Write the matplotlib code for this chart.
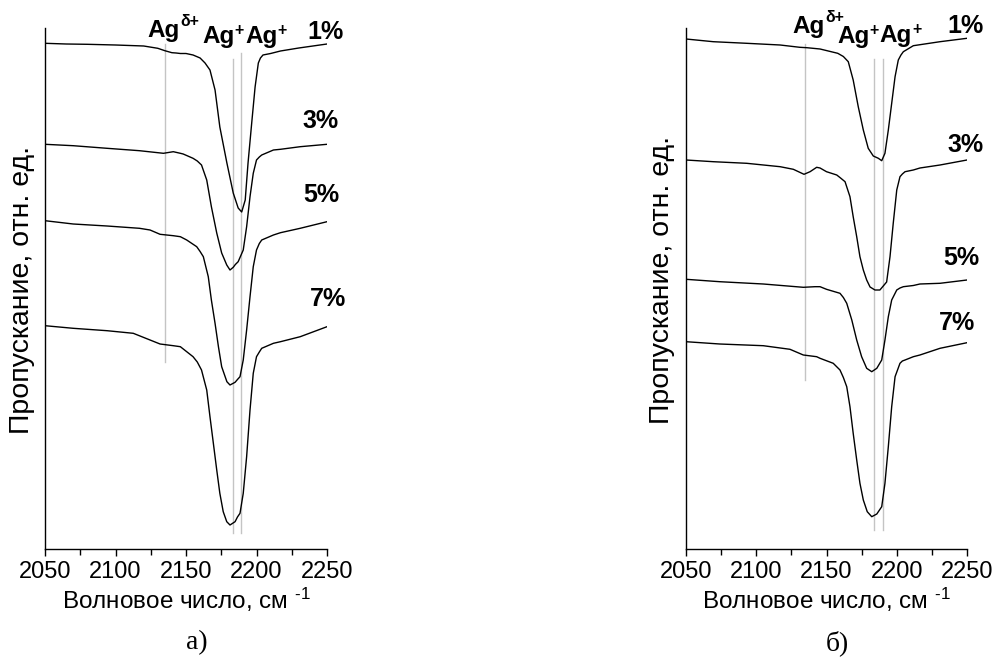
import matplotlib
matplotlib.use("Agg")
import matplotlib.pyplot as plt
from matplotlib.ticker import MultipleLocator

plt.rcParams['font.family'] = ['Liberation Sans', 'DejaVu Sans']
plt.rcParams['mathtext.fontset'] = 'custom'
plt.rcParams['mathtext.rm'] = 'Liberation Sans'
plt.rcParams['mathtext.it'] = 'Liberation Sans:italic'
plt.rcParams['mathtext.bf'] = 'Liberation Sans:bold'

# ---------------- panel a) spectra ----------------
a1_wn = [2050, 2065, 2080, 2100, 2120, 2130, 2135, 2140, 2143, 2146, 2150, 2155, 2160,
         2163.5, 2167, 2170.6, 2174, 2179, 2183.5, 2187, 2189.5, 2192, 2194, 2196.6,
         2199, 2201.3, 2202.8, 2204.6, 2210, 2217, 2230, 2240, 2250]
a1_T = [505.7, 505, 504.7, 504, 503, 500.7, 498.3, 496.3, 496, 495.5, 495.5, 494, 491,
        486, 479, 459, 422, 386, 356, 341, 337, 349, 386, 426,
        462, 486, 491, 494, 495.5, 498, 501, 503, 505]

a3_wn = [2050, 2070, 2094, 2117, 2134, 2141, 2146, 2148, 2155, 2158, 2161, 2164.7, 2168,
         2171.8, 2175.3, 2178.9, 2181.2, 2183.5, 2185, 2187, 2190.6, 2193, 2195.4,
         2197.7, 2200, 2202, 2203.7, 2212, 2217, 2231, 2250]
a3_T = [404.7, 403.3, 400.7, 398.3, 395.7, 397.3, 395.7, 395, 390.7, 388, 384, 369, 342.3,
        316, 296, 284, 279, 281.7, 284.5, 287.3, 299, 322.3, 352.3,
        375.7, 389, 392, 394, 399, 399.7, 402.3, 404.7]

a5_wn = [2050, 2070, 2094, 2117, 2124.5, 2131.6, 2141, 2146, 2150.5, 2157.6, 2160,
         2162.3, 2165.8, 2168, 2170.6, 2173, 2175.3, 2179, 2181.2, 2184.8, 2186.5,
         2188.3, 2190.6, 2193, 2195.4, 2197.7, 2200, 2202, 2203.7, 2212, 2217, 2231, 2250]
a5_T = [328.3, 325, 323, 320.7, 319, 314.7, 313.3, 312.3, 309, 302.3, 297.5,
        292.3, 272.3, 249, 225.7, 202.3, 182.3, 167.3, 164, 166.7, 169.5,
        172.3, 189, 219, 252.3, 282.3, 299, 305.5, 309, 314, 316.3, 320.7, 327.3]

a7_wn = [2050, 2070, 2094, 2112.6, 2124.5, 2131.6, 2141, 2146, 2150.5, 2155, 2158, 2161,
         2164.7, 2167, 2169.4, 2171.8, 2174, 2176.4, 2178.9, 2181.2, 2184.8, 2186.5,
         2188.3, 2190.6, 2193, 2195.4, 2197.7, 2200, 2202, 2203.7, 2212, 2217, 2231, 2250]
a7_T = [223.3, 220.7, 218.3, 215.7, 209, 205, 203.3, 202.3, 197.3, 192.3, 187, 179,
        159, 132.3, 105.7, 79, 55.7, 37.3, 27.3, 24, 27.3, 32,
        35.7, 55.7, 92.3, 139, 175.7, 192.3, 197, 200.7, 205.7, 207.3, 212.3, 222.3]

# ---------------- panel б) spectra ----------------
b1_wn = [2050, 2069.4, 2093.2, 2117, 2131, 2136, 2145.4, 2158, 2162, 2165.5, 2169,
         2172.6, 2176.2, 2179.7, 2183.3, 2186.9, 2189.3, 2191.6, 2194, 2196.4, 2198.8,
         2201.1, 2203, 2204.7, 2211.8, 2230.8, 2250]
b1_T = [510, 507.3, 505.7, 504, 501.7, 501.3, 500, 495.7, 492.5, 487.3, 469,
        442.3, 419, 400.7, 393, 390.7, 388.3, 395.7, 419, 445.7, 472.3,
        489, 494, 497.3, 503.3, 507.3, 510.7]

b3_wn = [2050, 2069.4, 2093.2, 2117, 2126.4, 2134, 2138.3, 2143, 2145.4, 2150, 2157.3,
         2160, 2163.2, 2166.7, 2169, 2171.5, 2173.8, 2176.2, 2178.6, 2181, 2184.5, 2188,
         2192.8, 2195.2, 2197.5, 2200, 2202.3, 2204, 2205.9, 2211.8, 2216.5, 2230.8, 2250]
b3_T = [389, 387.3, 385.7, 382.3, 379.7, 374.7, 377.3, 381.7, 381, 377.3, 374,
        371, 367.3, 352.3, 332.3, 312.3, 292.3, 279, 269, 262, 259, 259,
        267, 292.3, 325.7, 359, 372.3, 375, 377.3, 379, 381, 384, 389]

b5_wn = [2050, 2074, 2105, 2133.5, 2141.8, 2145.4, 2150, 2159.6, 2162, 2164.4, 2168,
         2171.5, 2175, 2178.6, 2182.2, 2185.8, 2189.3, 2191.6, 2194, 2196.4, 2200,
         2202.3, 2204.7, 2211.8, 2216.5, 2230.8, 2250]
b5_T = [269.7, 267.3, 265, 261.7, 262.3, 262.3, 259.7, 255.7, 251.5, 245.7, 229,
        209, 192.3, 180.7, 177.3, 180.7, 189, 209, 232.3, 249, 259,
        261, 262.3, 263.5, 265, 265.7, 269]

b7_wn = [2050, 2074, 2105, 2124, 2133.5, 2143, 2145.4, 2154.8, 2159.6, 2162, 2164.4,
         2166.7, 2169, 2171.5, 2173.8, 2176.2, 2179, 2182.2, 2185.8, 2189.3, 2191.6,
         2194, 2196.4, 2198.8, 2202.3, 2204, 2205.9, 2211.8, 2216.5, 2230.8, 2250]
b7_T = [207.3, 205, 203.3, 199.7, 194, 192.3, 190.7, 185.7, 179, 171.5, 162.3,
        142.3, 115.7, 89, 65.7, 49, 37.3, 32.3, 35, 42.3, 65.7,
        102.3, 142.3, 172.3, 185.7, 188, 189, 192.3, 194, 200.7, 206.3]

# reference band positions (wavenumber, lower, upper)
a_bands = [(2135, 187, 505), (2183.5, 16, 490), (2189, 16, 496)]
b_bands = [(2135, 169, 505), (2183.6, 19, 490), (2190, 19, 490)]

conc_labels = ['1%', '3%', '5%', '7%']
a_conc_pos = [(2235.8, 510), (2232.3, 421), (2233, 347), (2238, 243)]
b_conc_pos = [(2235.8, 516), (2235.8, 397), (2233, 284), (2230, 219)]

# band labels: base text and its superscript charge
band_charges = ['δ+', '+', '+']
a_band_pos = [(2122.3, 512), (2161.3, 506), (2191.8, 506)]
b_band_pos = [(2125.4, 516), (2157.6, 506), (2188.0, 507)]

x_ticks = [2050, 2100, 2150, 2200, 2250]

fig = plt.figure(figsize=(9.97, 6.71), dpi=100)
ax_a = fig.add_axes([45 / 997, 122 / 671, 282 / 997, 521 / 671])
ax_b = fig.add_axes([686 / 997, 122 / 671, 281 / 997, 521 / 671])

panels = [
    (ax_a, [(a1_wn, a1_T), (a3_wn, a3_T), (a5_wn, a5_T), (a7_wn, a7_T)],
     a_bands, a_conc_pos, a_band_pos, 'а)', 197, 22, 290),
    (ax_b, [(b1_wn, b1_T), (b3_wn, b3_T), (b5_wn, b5_T), (b7_wn, b7_T)],
     b_bands, b_conc_pos, b_band_pos, 'б)', 837, 662, 280),
]

for ax, spectra, bands, conc_pos, band_pos, tag, tag_x, ylab_x, ylab_y in panels:
    for wn, lo, hi in bands:
        ax.plot([wn, wn], [lo, hi], color='#c4c4c4', lw=1.0, zorder=1)
    for wn, T in spectra:
        ax.plot(wn, T, color='black', lw=1.0, zorder=2)
    for lab, (x, y) in zip(conc_labels, conc_pos):
        ax.text(x, y, lab, fontsize=18, fontweight='bold', ha='left',
                va='baseline', clip_on=False)
    for charge, (x, y) in zip(band_charges, band_pos):
        base = ax.text(x, y, 'Ag', fontsize=17.5, fontweight='bold', ha='left',
                       va='baseline', clip_on=False)
        dx, dy = (0.5, 1) if charge == 'δ+' else (0, -1.5)
        ax.annotate(charge, xy=(1, 0.83), xycoords=base, xytext=(dx, dy),
                    textcoords='offset points', fontsize=11.5, fontweight='bold',
                    ha='left', va='center', annotation_clip=False)

    ax.set_xlim(2050, 2250)
    ax.set_ylim(0, 521)
    ax.set_xticks(x_ticks)
    ax.xaxis.set_minor_locator(MultipleLocator(25))
    ax.set_yticks([])
    for side in ('top', 'right'):
        ax.spines[side].set_visible(False)
    for side in ('left', 'bottom'):
        ax.spines[side].set_linewidth(1.0)
    ax.tick_params(axis='x', which='major', direction='out', length=5, width=1,
                   labelsize=17, pad=4)
    ax.tick_params(axis='x', which='minor', direction='out', length=4, width=1)
    ax.set_xlabel('Волновое число, см $^{\u20101}$', fontsize=17.5, labelpad=2)

    fig.text(ylab_x / 997, 1 - ylab_y / 671, 'Пропускание, отн. ед.', rotation=90,
             fontsize=20.5, ha='center', va='center')
    fig.text(tag_x / 997, 1 - 643 / 671, tag, fontsize=20,
             family=['Liberation Serif', 'DejaVu Serif'], ha='center', va='center')

fig.savefig('out.png', dpi=100)
